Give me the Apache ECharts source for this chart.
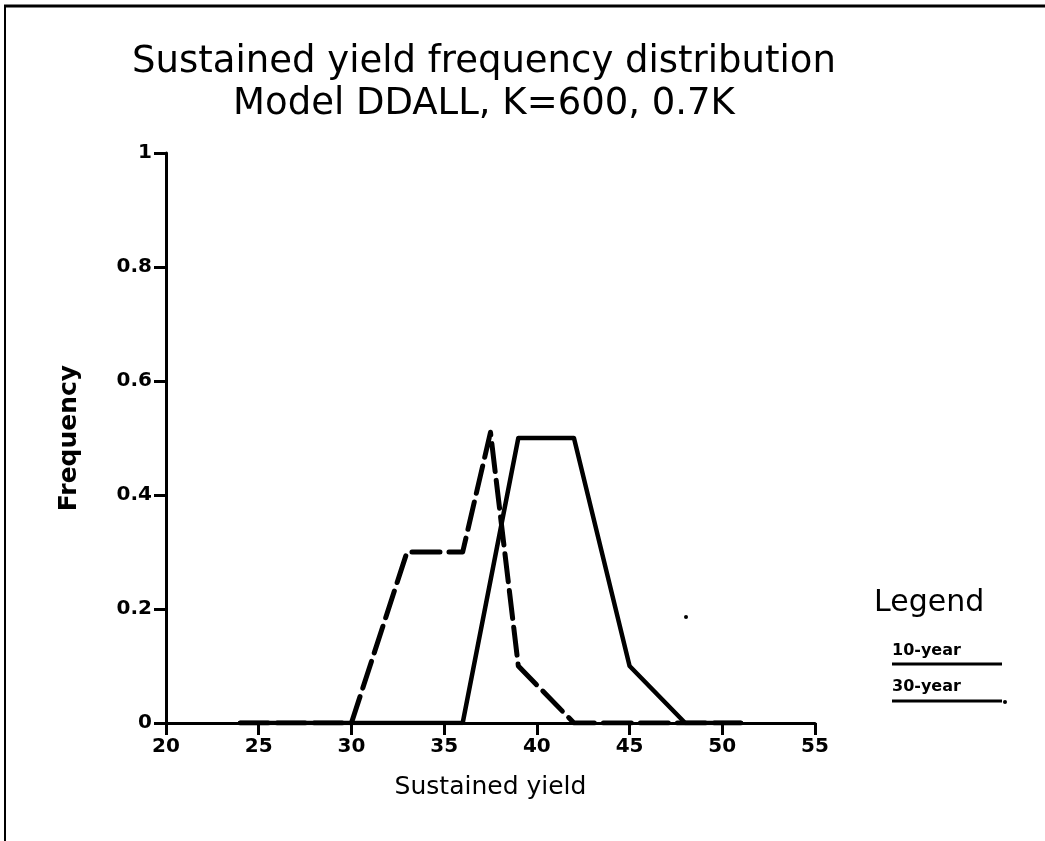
<!DOCTYPE html>
<html>
<head>
<meta charset="utf-8">
<script src="https://cdn.jsdelivr.net/npm/echarts@6/dist/echarts.min.js"></script>
<style>
html,body{margin:0;padding:0;background:#fff;}
#chart{width:1045px;height:841px;}
</style>
</head>
<body>
<div id="chart"></div>
<script>
// Data
const titleLines = ['Sustained yield frequency distribution', 'Model DDALL, K=600, 0.7K'];
const xTicks = [20, 25, 30, 35, 40, 45, 50, 55];
const yTicks = [0, 0.2, 0.4, 0.6, 0.8, 1];
const tenYearX = [24, 30, 33, 36, 37.5, 39, 42, 51];
const tenYearY = [0, 0, 0.3, 0.3, 0.51, 0.1, 0, 0];
const thirtyYearX = [24, 36, 39, 42, 45, 48, 51];
const thirtyYearY = [0, 0, 0.5, 0.5, 0.1, 0, 0];
const legendNames = ['10-year', '30-year'];

const zip = (xs, ys) => xs.map((x, i) => [x, ys[i]]);
const font = '"DejaVu Sans", "Noto Sans", sans-serif';

const chart = echarts.init(document.getElementById('chart'), null, {renderer: 'canvas'});
chart.setOption({
  backgroundColor: '#fff',
  animation: false,
  title: {
    text: titleLines.join('\n'),
    left: 479, top: 36, textAlign: 'center',
    textStyle: {fontFamily: font, fontSize: 37, fontWeight: 'normal', color: '#000', lineHeight: 42}
  },
  grid: {left: 166, right: 230, top: 153, bottom: 118, containLabel: false},
  xAxis: {
    type: 'value', min: 20, max: 55, interval: 5,
    name: 'Sustained yield', nameLocation: 'middle', nameGap: 52,
    nameTextStyle: {fontFamily: font, fontSize: 25, color: '#000'},
    axisLine: {lineStyle: {color: '#000', width: 3}},
    axisTick: {show: true, length: 12, inside: false, lineStyle: {color: '#000', width: 3}},
    axisLabel: {fontFamily: font, fontSize: 20, fontWeight: 'bold', color: '#000', margin: 14,
      formatter: v => xTicks.includes(v) ? String(v) : ''},
    splitLine: {show: false}
  },
  yAxis: {
    type: 'value', min: 0, max: 1, interval: 0.2,
    name: 'Frequency', nameLocation: 'middle', nameGap: 84, nameRotate: 90,
    nameTextStyle: {fontFamily: font, fontSize: 25, fontWeight: 'bold', color: '#000'},
    axisLine: {show: true, lineStyle: {color: '#000', width: 3}},
    axisTick: {show: true, length: 12, lineStyle: {color: '#000', width: 3}},
    axisLabel: {fontFamily: font, fontSize: 20, fontWeight: 'bold', color: '#000', margin: 14,
      formatter: v => { const t = yTicks.find(t => Math.abs(t - v) < 1e-9); return t === undefined ? '' : String(t); }},
    splitLine: {show: false}
  },
  series: [
    {name: legendNames[0], type: 'line', data: zip(tenYearX, tenYearY), symbol: 'none',
     lineStyle: {color: '#000', width: 5, type: [28, 9], cap: 'round', join: 'round'}},
    {name: legendNames[1], type: 'line', data: zip(thirtyYearX, thirtyYearY), symbol: 'none',
     lineStyle: {color: '#000', width: 4.5, type: 'solid', cap: 'round', join: 'round'}}
  ],
  graphic: [
    {type: 'line', shape: {x1: 4, y1: 6, x2: 1045, y2: 6}, style: {stroke: '#000', lineWidth: 3}},
    {type: 'line', shape: {x1: 5, y1: 6, x2: 5, y2: 841}, style: {stroke: '#000', lineWidth: 2}},
    {type: 'text', left: 874, top: 588, style: {text: 'Legend', font: '30px ' + font, fill: '#000'}},
    {type: 'text', left: 892, top: 643, style: {text: legendNames[0], font: 'bold 16px ' + font, fill: '#000'}},
    {type: 'line', shape: {x1: 892, y1: 664, x2: 1002, y2: 664}, style: {stroke: '#000', lineWidth: 3}},
    {type: 'text', left: 892, top: 679, style: {text: legendNames[1], font: 'bold 16px ' + font, fill: '#000'}},
    {type: 'line', shape: {x1: 892, y1: 701, x2: 1002, y2: 701}, style: {stroke: '#000', lineWidth: 3}},
    {type: 'circle', shape: {cx: 1005, cy: 702, r: 2}, style: {fill: '#000'}},
    {type: 'circle', shape: {cx: 686, cy: 617, r: 2}, style: {fill: '#000'}}
  ]
});
</script>
</body>
</html>
